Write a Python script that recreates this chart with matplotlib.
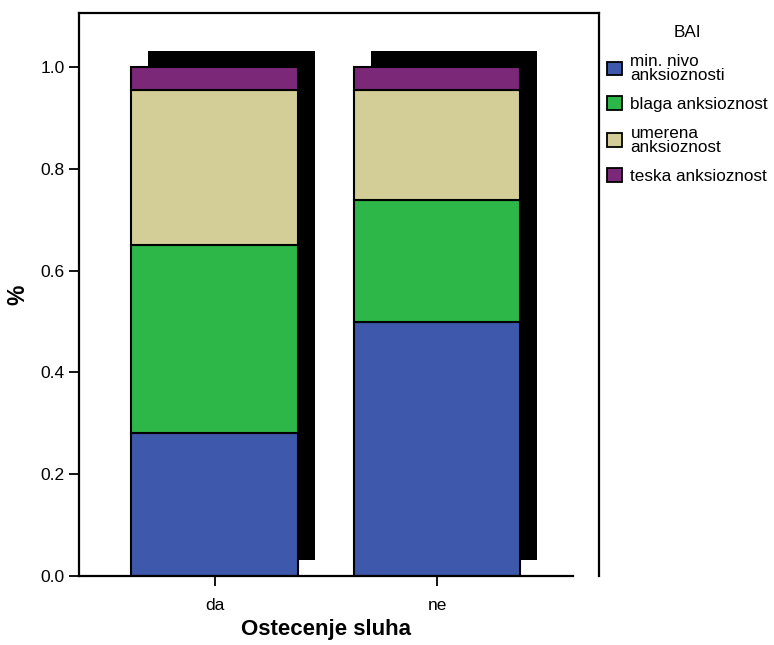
import matplotlib
matplotlib.use("Agg")
import matplotlib.pyplot as plt
from matplotlib.patches import Patch
from matplotlib.lines import Line2D
import numpy as np

plt.rcParams['font.family'] = ['Liberation Sans', 'DejaVu Sans']

#-----------------------------
# DATA
#-----------------------------
groups = ["da", "ne"]
levels = ["min. nivo\nanksioznosti", "blaga anksioznost",
          "umerena\nanksioznost", "teska anksioznost"]
min_nivo = [0.280, 0.498]
blaga = [0.370, 0.241]
umerena = [0.305, 0.216]
teska = [0.045, 0.045]
colors = ["#3E58AC", "#2DB748", "#D3CE97", "#7B2879"]

series = [min_nivo, blaga, umerena, teska]
x = np.arange(len(groups))
width = 0.75
totals = np.sum(series, axis=0)

#-----------------------------
# FIGURE
#-----------------------------
fig = plt.figure(figsize=(7.74, 6.45), dpi=100)
ax = fig.add_axes([79/774, 69/645, 494/774, 563/645])

# drop shadow behind each stacked bar
shadow_dx, shadow_dy = 0.076, 0.031
ax.bar(x + shadow_dx, totals, width, bottom=shadow_dy, color="black",
       edgecolor="none", zorder=1)

bottom = np.zeros(len(groups))
for vals, col in zip(series, colors):
    ax.bar(x, vals, width, bottom=bottom, color=col, edgecolor="black",
           linewidth=1.5, zorder=2)
    bottom += np.array(vals)

ax.set_xlim(-0.609, 1.611)
ax.set_ylim(0, 1.106)
ax.set_xticks(x)
ax.set_xticklabels(groups)
ax.set_yticks([0.0, 0.2, 0.4, 0.6, 0.8, 1.0])
ax.set_yticklabels(["0.0", "0.2", "0.4", "0.6", "0.8", "1.0"])
ax.tick_params(axis="both", labelsize=12.5, width=1.3, length=7, color="black")
ax.tick_params(axis="x", pad=9)

for side in ["top", "right"]:
    ax.spines[side].set_visible(False)
for side in ["left", "bottom"]:
    ax.spines[side].set_linewidth(1.6)

ax.set_xlabel("Ostecenje sluha", fontsize=16, fontweight="bold", labelpad=4)
ax.set_ylabel("%", fontsize=16.5, fontweight="bold", labelpad=8)

# outer frame: top edge and right edge of the chart area
fig.add_artist(Line2D([79/774, 599/774], [1 - 13/645, 1 - 13/645],
                      color="black", linewidth=1.6))
fig.add_artist(Line2D([599/774, 599/774], [1 - 13/645, 1 - 576/645],
                      color="black", linewidth=1.6))

#-----------------------------
# LEGEND
#-----------------------------
handles = [Patch(facecolor=c, edgecolor="black", linewidth=1.3) for c in colors]
leg = fig.legend(handles, levels, title="BAI", loc="upper left",
                 bbox_to_anchor=(604/774, 1 - 22/645), frameon=False,
                 fontsize=12.3, title_fontsize=12.3, handlelength=0.85,
                 handleheight=0.85, handletextpad=0.5, labelspacing=0.78,
                 borderaxespad=0, borderpad=0.2)
for t in leg.get_texts():
    t.set_linespacing(0.95)

fig.savefig("out.png", dpi=100)
